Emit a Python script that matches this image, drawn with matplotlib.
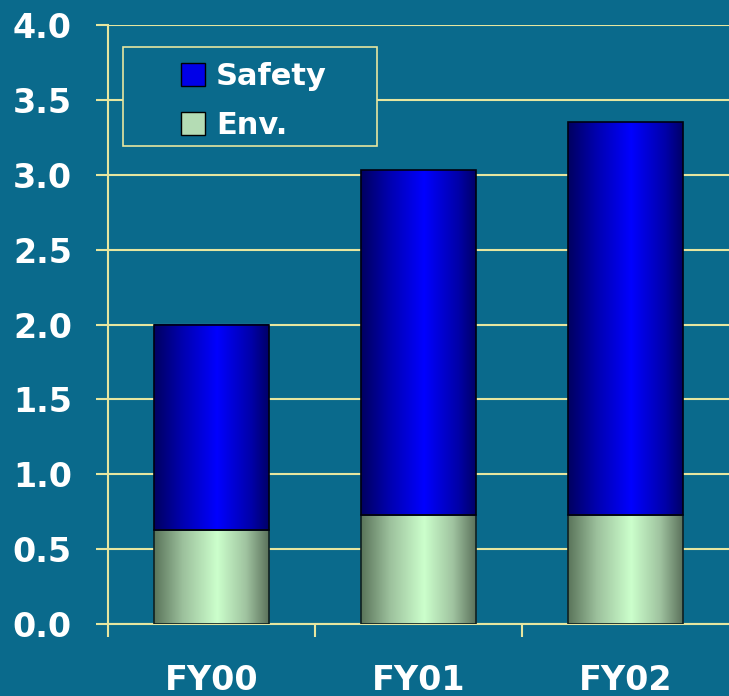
import numpy as np
import matplotlib.pyplot as plt
from matplotlib.colors import LinearSegmentedColormap
from matplotlib.patches import Patch, Rectangle

# data
years = ["FY00", "FY01", "FY02"]
env = [0.63, 0.73, 0.73]
safety = [1.37, 2.30, 2.62]

bg = "#0a6a8c"
grid_col = "#e6e6a0"

plt.rcParams["font.family"] = ["DejaVu Sans"]
plt.rcParams["font.weight"] = "bold"

fig = plt.figure(figsize=(7.29, 6.96), dpi=100, facecolor=bg)
ax = fig.add_axes([108 / 729, 72 / 696, 621 / 729, 599 / 696], facecolor=bg)

x = np.arange(len(years))
w = 0.555

# bar outlines from the data, gradients filled in afterwards
env_bars = ax.bar(x, env, width=w, facecolor="none", edgecolor="#102020", lw=1.2, zorder=4)
saf_bars = ax.bar(x, safety, bottom=env, width=w, facecolor="none", edgecolor="#000010", lw=1.2, zorder=4)

blue_cmap = LinearSegmentedColormap.from_list(
    "blue", [(0, "#000060"), (0.25, "#0000b0"), (0.55, "#0000ff"), (0.85, "#0000a8"), (1, "#000068")])
green_cmap = LinearSegmentedColormap.from_list(
    "green", [(0, "#5a745a"), (0.25, "#9cc09c"), (0.55, "#ccffcc"), (0.8, "#a0c4a0"), (1, "#5c725c")])

grad = np.linspace(0, 1, 256).reshape(1, -1)
for bars, cmap in [(env_bars, green_cmap), (saf_bars, blue_cmap)]:
    for b in bars:
        x0, y0 = b.get_x(), b.get_y()
        ax.imshow(grad, cmap=cmap, aspect="auto", zorder=3,
                  extent=[x0, x0 + b.get_width(), y0, y0 + b.get_height()])

ax.set_xlim(-0.5, 2.5)
ax.set_ylim(0, 4)

# axes styling
for s in ["top", "right"]:
    ax.spines[s].set_visible(False)
for s in ["left", "bottom"]:
    ax.spines[s].set_color(grid_col)
    ax.spines[s].set_linewidth(1.5)

ax.set_yticks(np.arange(0, 4.01, 0.5))
ax.set_yticklabels([f"{v:.1f}" for v in np.arange(0, 4.01, 0.5)])
ax.yaxis.grid(True, color=grid_col, lw=1.5, zorder=1)
ax.set_axisbelow(True)
ax.tick_params(axis="y", colors=grid_col, length=9, width=1.5, pad=17,
               labelcolor="white", labelsize=24)

ax.set_xticks(x)
ax.set_xticklabels(years)
ax.set_xticks([-0.5, 0.5, 1.5], minor=True)
ax.tick_params(axis="x", which="major", length=0, pad=29, labelcolor="white", labelsize=24)
ax.tick_params(axis="x", which="minor", length=9, width=1.5, colors=grid_col)

# legend frame drawn separately so its size matches the reference
ax.add_patch(Rectangle((0.0242, 0.798), 0.409, 0.165, transform=ax.transAxes,
                       facecolor=bg, edgecolor=grid_col, lw=1.2, zorder=5))

handles = [Patch(facecolor="#0000e8", edgecolor="black", label="Safety"),
           Patch(facecolor="#b4dcb4", edgecolor="black", label="Env.")]
leg = ax.legend(handles=handles, loc="upper left", bbox_to_anchor=(0.1176, 0.938),
                fontsize=22, frameon=False, labelcolor="white", handlelength=0.8,
                handleheight=0.8, borderpad=0, labelspacing=0.65,
                borderaxespad=0, handletextpad=0.35)
leg.set_zorder(6)
for t in leg.get_texts():
    t.set_fontweight("bold")

fig.savefig("out.png", dpi=100, facecolor=bg)
